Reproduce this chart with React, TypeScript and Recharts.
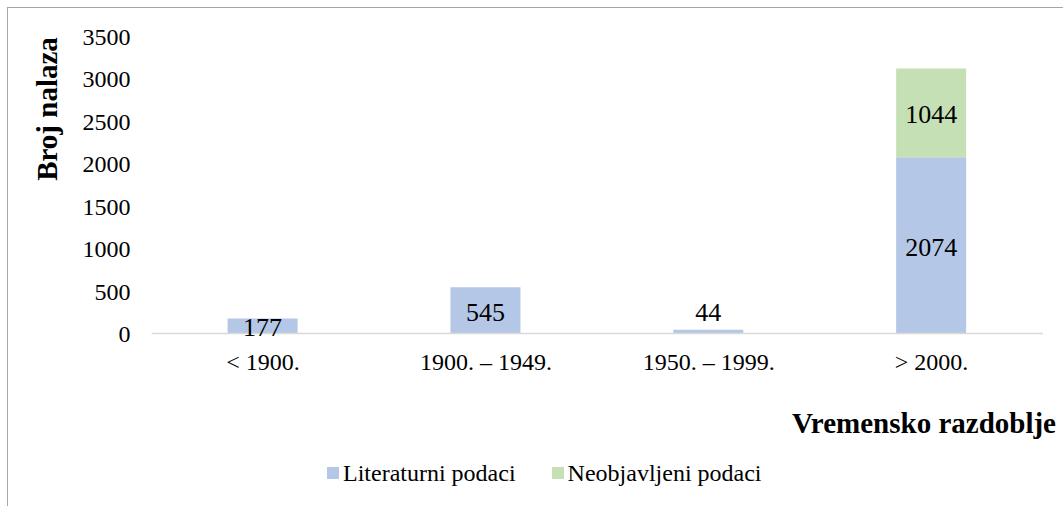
import { Bar, BarChart, LabelList, Legend, XAxis, YAxis } from 'recharts';

const categories = ['< 1900.', '1900. – 1949.', '1950. – 1999.', '> 2000.'];
const literaturni = [177, 545, 44, 2074];
const neobjavljeni = [null, null, null, 1044];
const yTicks = [0, 500, 1000, 1500, 2000, 2500, 3000, 3500];

const SERIES = [
  { key: 'lit', name: 'Literaturni podaci', color: '#b4c7e7' },
  { key: 'neo', name: 'Neobjavljeni podaci', color: '#c5e0b4' },
];

const FONT = '"Liberation Serif", "Times New Roman", serif';

const data = categories.map((name, i) => ({
  name,
  lit: literaturni[i],
  neo: neobjavljeni[i],
}));

// centred value label; tiny bars get it lifted above the bar
function ValueLabel(props: any) {
  const { x, y, width, height, value } = props;
  if (value == null) return null;
  const cx = Number(x) + Number(width) / 2;
  const small = Math.abs(Number(height)) < 10;
  const cy = small ? Number(y) - 17 : Number(y) + Number(height) / 2 + 2;
  return (
    <text
      x={cx}
      y={cy}
      textAnchor="middle"
      dominantBaseline="central"
      style={{ fontFamily: FONT, fontSize: 26 }}
      fill="#000"
    >
      {value}
    </text>
  );
}

function LegendBox() {
  return (
    <div style={{ display: 'flex', alignItems: 'center', height: 24, fontFamily: FONT, fontSize: 24, color: '#000', whiteSpace: 'nowrap' }}>
      {SERIES.map((s, i) => (
        <div key={s.key} style={{ display: 'flex', alignItems: 'center', marginRight: i === 0 ? 36 : 0 }}>
          <span style={{ width: 12, height: 12, background: s.color, marginRight: 4, display: 'inline-block' }} />
          <span style={{ lineHeight: '24px' }}>{s.name}</span>
        </div>
      ))}
    </div>
  );
}

const tickStyle = { fill: '#000', fontSize: 24, fontFamily: FONT };

export default function App() {
  return (
    <div style={{ position: 'absolute', left: 0, top: 0, width: 1063, height: 506, overflow: 'hidden', background: '#fff', fontFamily: FONT }}>
      <div
        style={{
          position: 'absolute',
          left: 7,
          top: 7,
          width: 1200,
          height: 700,
          borderTop: '1px solid #a6a6a6',
          borderLeft: '1px solid #a6a6a6',
        }}
      />
      <div style={{ position: 'absolute', left: 0, top: 0 }}>
        <BarChart
          width={1063}
          height={506}
          data={data}
          margin={{ top: 36, right: 20, left: 0, bottom: 62.5 }}
          barSize={70}
          style={{ fontFamily: FONT }}
        >
          <XAxis
            dataKey="name"
            height={110}
            tickLine={false}
            tickSize={0}
            tickMargin={19}
            axisLine={{ stroke: '#d9d9d9', strokeWidth: 1.5 }}
            tick={tickStyle}
            interval={0}
            label={({ viewBox }: any) => (
              <text
                x={viewBox.x + viewBox.width + 13}
                y={viewBox.y + 99.5}
                textAnchor="end"
                style={{ fontFamily: FONT, fontSize: 29, fontWeight: 'bold' }}
                fill="#000"
              >
                Vremensko razdoblje
              </text>
            )}
          />
          <YAxis
            width={151.6}
            domain={[0, 3500]}
            ticks={yTicks}
            interval={0}
            tickLine={false}
            axisLine={false}
            tickSize={0}
            tickMargin={21}
            tick={tickStyle}
            label={() => (
              <text
                x={57}
                y={109}
                transform="rotate(-90, 57, 109)"
                textAnchor="middle"
                style={{ fontFamily: FONT, fontSize: 29, fontWeight: 'bold' }}
                fill="#000"
              >
                Broj nalaza
              </text>
            )}
          />
          <Legend
            verticalAlign="middle"
            layout="horizontal"
            content={() => <LegendBox />}
            wrapperStyle={{ left: 327, top: 461, width: 'auto' }}
          />
          {SERIES.map((s) => (
            <Bar key={s.key} dataKey={s.key} name={s.name} stackId="a" fill={s.color} isAnimationActive={false}>
              <LabelList dataKey={s.key} content={ValueLabel} />
            </Bar>
          ))}
        </BarChart>
      </div>
    </div>
  );
}
